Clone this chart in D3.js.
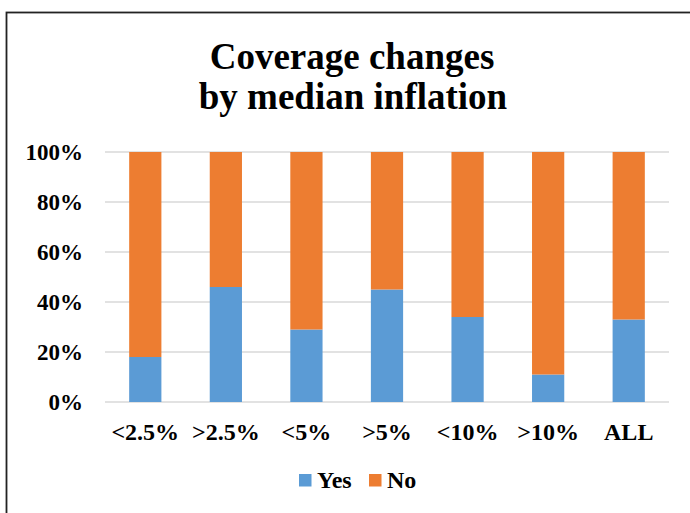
<!DOCTYPE html>
<html><head><meta charset="utf-8">
<script src="https://cdn.jsdelivr.net/npm/d3@7"></script>
<style>body{margin:0;background:#fff}svg{display:block}</style>
</head><body>
<svg id="c" width="690" height="513"></svg>
<script>
const categories = ["<2.5%", ">2.5%", "<5%", ">5%", "<10%", ">10%", "ALL"];
const yesValues = [18, 46, 29, 45, 34, 11, 33];
const noValues = yesValues.map(v => 100 - v);
const yTicks = [0, 20, 40, 60, 80, 100];
const seriesNames = ["Yes", "No"];
const colors = ["#5B9BD5", "#ED7D31"];

const svg = d3.select("#c");
const font = "'Liberation Serif','Times New Roman',serif";

// outer border
svg.append("rect").attr("x", 6.5).attr("y", 12.5).attr("width", 700).attr("height", 520)
  .attr("fill", "none").attr("stroke", "#222").attr("stroke-width", 1.8);

// title
const title = svg.append("text").attr("text-anchor", "middle").attr("font-family", font)
  .attr("font-weight", "bold").attr("font-size", 37).attr("fill", "#000");
title.append("tspan").attr("x", 352).attr("y", 69).text("Coverage changes");
title.append("tspan").attr("x", 353).attr("y", 109).text("by median inflation");

const x = d3.scaleBand().domain(categories).range([105, 669]).paddingInner(0.6).paddingOuter(0.3);
const y = d3.scaleLinear().domain([0, 100]).range([402, 152]);

// gridlines
svg.append("g").selectAll("line").data(yTicks).join("line")
  .attr("x1", 105).attr("x2", 669).attr("y1", d => y(d)).attr("y2", d => y(d))
  .attr("stroke", "#D9D9D9").attr("stroke-width", 1.5);

// y axis labels
const yAxis = d3.axisLeft(y).tickValues(yTicks).tickFormat(d => d + "%").tickSize(0).tickPadding(0);
const ya = svg.append("g").attr("transform", "translate(83,0)").call(yAxis);
ya.select(".domain").remove();
ya.selectAll("text").attr("font-family", font).attr("font-weight", "bold").attr("font-size", 23).attr("fill", "#000");

// bars
const stackData = categories.map((c, i) => ({cat: c, Yes: yesValues[i], No: noValues[i]}));
const stacked = d3.stack().keys(seriesNames)(stackData);
svg.append("g").selectAll("g").data(stacked).join("g").attr("fill", (d, i) => colors[i])
  .selectAll("rect").data(d => d).join("rect")
  .attr("x", d => x(d.data.cat)).attr("width", x.bandwidth())
  .attr("y", d => y(d[1])).attr("height", d => y(d[0]) - y(d[1]));

// x axis labels
const xAxis = d3.axisBottom(x).tickSize(0).tickPadding(0);
const xa = svg.append("g").attr("transform", "translate(0,423)").call(xAxis);
xa.select(".domain").remove();
xa.selectAll("text").attr("font-family", font).attr("font-weight", "bold").attr("font-size", 24).attr("fill", "#000");

// legend
const legendX = [299, 369];
const lg = svg.append("g").selectAll("g").data(seriesNames).join("g")
  .attr("transform", (d, i) => `translate(${legendX[i]},474)`);
lg.append("rect").attr("width", 12.5).attr("height", 12.5).attr("fill", (d, i) => colors[i]);
lg.append("text").attr("x", 18).attr("y", 14).text(d => d)
  .attr("font-family", font).attr("font-weight", "bold").attr("font-size", 24).attr("fill", "#000");
</script>
</body></html>
